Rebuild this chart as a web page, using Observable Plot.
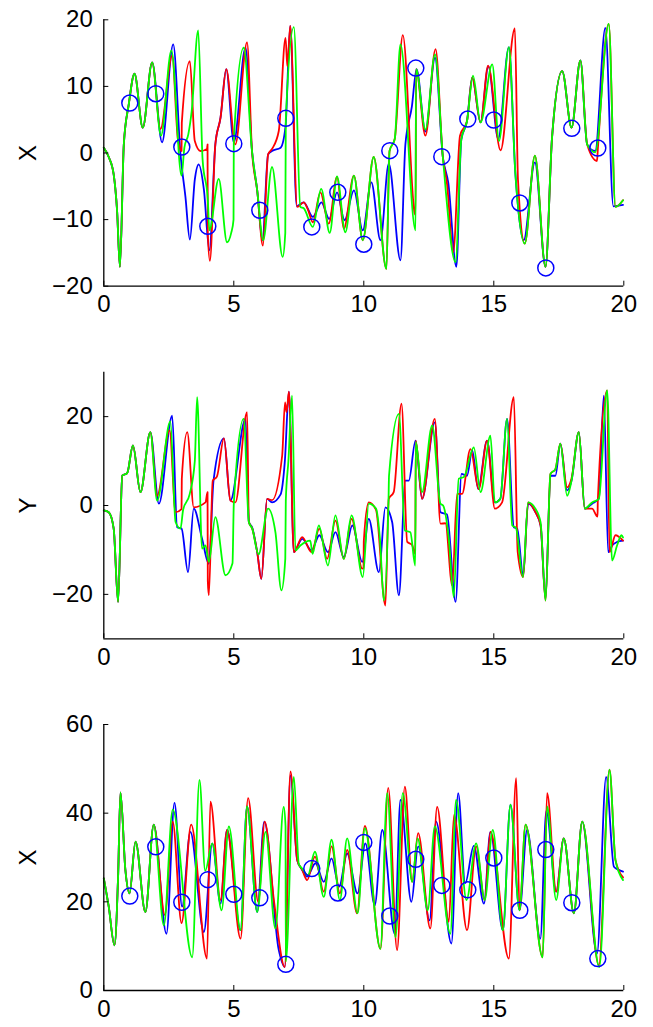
<!DOCTYPE html>
<html><head><meta charset="utf-8">
<script src="https://cdn.jsdelivr.net/npm/d3@7"></script>
<script src="https://cdn.jsdelivr.net/npm/@observablehq/plot@0.6"></script>
<style>
body{margin:0;background:#fff;}
#wrap{position:relative;width:653px;height:1027px;overflow:hidden;}
#wrap svg text{font-size:24px !important;font-family:'Liberation Sans', Arial, Helvetica, sans-serif !important;fill:#000;}
</style></head><body><div id="wrap"></div>
<script>
const xTicks = [0, 5, 10, 15, 20];
const p1Ticks = [-20, -10, 0, 10, 20];
const p2Ticks = [-20, 0, 20];
const p3Ticks = [0, 20, 40, 60];

const obsTimes = [1,2,3,4,5,6,7,8,9,10,11,12,13,14,15,16,17,18,19];
const obsX = [7.5, 8.9, 0.9, -11.0, 1.4, -8.6, 5.2, -11.1, -5.9, -13.7, 0.35, 12.75, -0.55, 5.1, 4.95, -7.5, -17.25, 3.7, 0.75];
const obsZ = [21.3, 32.4, 19.9, 25.0, 21.7, 20.9, 5.9, 27.5, 22.0, 33.4, 16.8, 29.6, 23.7, 22.7, 29.9, 18.1, 31.8, 19.8, 7.2];

// Panel 1 (X) — [t, value] pairs
const p1Common = [[0,0.8],[0.19,-0.6],[0.38,-3.2],[0.51,-8.6],[0.62,-17.1],[0.77,1.3],[0.96,7.3],[1.18,11.9],[1.5,3.8],[1.86,13.6]];
const p1Red = [[2.18,3.6],[2.63,14.6],[2.85,2],[2.99,0.3],[3.0,4.5],[3.31,13.8],[3.5,1.8],[3.72,0.3],[3.97,0.6],[3.99,1.3],[4.0,-12],[4.08,-16.2],[4.29,1.3],[4.49,5.3],[4.71,12.6],[5.06,1.3],[5.51,16.6],[5.7,0.3],[5.9,-5.6],[6.12,-13.9],[6.32,-0.2],[6.47,0.6],[6.73,3.3],[6.99,17.3],[7.06,13],[7.17,19.1],[7.44,-8.1],[7.69,-7.4],[7.85,-8.5],[8.04,-10.4],[8.33,-5.9],[8.65,-10.6],[8.97,-3.6],[9.23,-11.4],[9.62,-3.4],[9.96,-13.1],[10.38,-0.6],[10.87,-17.4],[10.99,0.3],[11.19,2.1],[11.5,17.7],[11.96,-9.1],[11.99,-9.3],[12.01,12.6],[12.37,2.6],[12.76,15.6],[13.04,-0.6],[13.2,-4.6],[13.44,-14.9],[13.7,2.6],[13.97,4.8],[14.17,11.3],[14.49,4.6],[14.78,13.1],[15.26,0.4],[15.81,18.7],[15.93,-4],[16.19,-13.6],[16.58,-0.4],[16.99,-17.1],[17.24,2.3],[17.63,12.3],[17.99,3.8],[18.33,13.9],[18.59,1.3],[18.97,-1.2],[19.0,0.5],[19.42,19.4],[19.68,-8.1],[19.97,-7.1]];
const p1Blue = [[2.24,1.6],[2.67,16.3],[2.95,-0.2],[3.14,-6.6],[3.31,-13],[3.5,-4],[3.65,-1.7],[3.85,-5.5],[4.06,-14.6],[4.29,1.3],[4.49,5.3],[4.71,12.6],[5.0,1.6],[5.45,15.8],[5.7,0.3],[5.9,-5.6],[6.1,-13.1],[6.32,-0.2],[6.47,0.3],[6.8,0.8],[6.99,4],[7.17,19.1],[7.42,-8],[7.69,-7.4],[8.04,-9.6],[8.37,-7.4],[8.67,-9.9],[8.97,-5.9],[9.26,-10.1],[9.62,-5.6],[9.96,-11.6],[10.29,-4.4],[10.64,-13.1],[10.96,-1.6],[11.41,-16.1],[11.6,1.3],[11.85,7],[12.03,12.6],[12.37,3.2],[12.74,14.3],[13.04,-0.6],[13.25,-4.5],[13.56,-17.1],[13.75,2],[13.97,4.8],[14.17,11.3],[14.49,4.6],[14.79,13],[15.17,2.1],[15.58,15.9],[15.83,-3.1],[16.15,-13.1],[16.58,-1.4],[16.99,-17.1],[17.24,2.3],[17.63,12.3],[17.99,3.8],[18.33,13.9],[18.59,1.3],[18.9,0.3],[19.29,18.8],[19.6,-8],[19.97,-7.8]];
const p1Green = [[2.2,2.6],[2.6,15.4],[2.99,-3.4],[3.1,0.8],[3.25,2.8],[3.38,6.3],[3.63,18.4],[3.8,-1],[4.0,-7],[4.06,-11.6],[4.42,-3.9],[4.74,-13.4],[4.9,-12],[4.99,-10],[5.0,1.8],[5.38,15.8],[5.7,0.3],[5.9,-5.6],[6.13,-13.1],[6.47,-2.1],[6.88,-15.6],[6.98,-12],[7.0,5],[7.31,18.9],[7.56,-8.1],[7.69,-8.3],[8.04,-11.1],[8.36,-5.4],[8.69,-12],[8.97,-3.5],[9.29,-11.9],[9.62,-3.4],[9.96,-13.1],[10.38,-0.6],[10.87,-17.4],[10.99,0.3],[11.19,2.1],[11.41,16.3],[11.99,-11.6],[12.01,12.6],[12.37,3.5],[12.74,14.8],[13.04,-0.6],[13.53,-16.4],[13.75,2],[13.97,4.8],[14.2,11.6],[14.49,4.6],[14.94,13.3],[15.2,1.8],[15.58,15.9],[15.83,-3.1],[16.19,-13.6],[16.58,-0.4],[16.99,-17.1],[17.24,2.3],[17.63,12.3],[17.99,3.8],[18.33,13.9],[18.59,1.3],[18.9,0.1],[19.42,19.4],[19.68,-8.1],[19.97,-7.1]];

// Panel 2 (Y)
const p2Common = [[0,-1.1],[0.19,-1.5],[0.38,-5.2],[0.55,-21.7],[0.71,6.7],[0.9,7.3],[1.12,13.5],[1.41,3],[1.79,16.5]];
const p2Red = [[2.05,2.2],[2.53,16.9],[2.76,-1.5],[2.99,-0.8],[3.0,6],[3.21,16.5],[3.46,-0.4],[3.91,0.7],[3.99,3],[4.0,-17],[4.04,-20.2],[4.19,5.6],[4.35,6.5],[4.62,15.1],[4.87,1.1],[5.06,0.7],[5.51,21],[5.58,-3.7],[5.71,-5.2],[5.9,-10.5],[6.06,-16.5],[6.28,1.5],[6.47,1.2],[6.86,11.2],[6.97,23.2],[7.03,21],[7.12,25.6],[7.31,-10.5],[7.63,-7.1],[7.99,-10.5],[8.29,-5.2],[8.59,-12],[8.91,-3.4],[9.23,-12],[9.53,-3],[9.94,-14.2],[9.99,-14],[10.0,-8],[10.19,0.7],[10.47,-1],[10.83,-22.5],[10.96,1.5],[11.15,3],[11.45,22.9],[11.67,-8.2],[11.85,-8.8],[11.98,-10.9],[12.0,14.6],[12.24,1.5],[12.73,19.5],[12.95,-4.1],[13.14,-4],[13.4,-18],[13.59,2.6],[13.78,2.6],[14.1,12.7],[14.42,3.7],[14.74,14.6],[15.04,-0.7],[15.32,0.7],[15.77,24.4],[15.92,-10.5],[16.13,-16.1],[16.32,0.7],[16.6,-1.5],[16.8,-4.5],[16.99,-21.4],[17.18,7.1],[17.37,8.2],[17.56,13.9],[17.82,4.1],[17.99,6.1],[18.27,16.5],[18.5,-0.7],[18.78,-0.7],[18.99,-2.5],[19.0,1],[19.36,25.9],[19.45,-10.5],[19.68,-6.7],[19.97,-7.9]];
const p2Blue = [[2.12,0.4],[2.63,20.2],[2.82,-4.9],[2.99,-5.2],[3.24,-15],[3.46,-0.7],[3.78,-7.5],[4.04,-13.1],[4.22,5.6],[4.62,15.1],[4.87,1.1],[5.45,19.5],[5.58,-3.7],[5.71,-5],[5.9,-10.5],[6.06,-16.5],[6.28,1.5],[6.47,0.7],[6.8,2.5],[6.96,9.7],[7.12,25.6],[7.31,-10.5],[7.63,-7.5],[7.99,-10.1],[8.29,-6.7],[8.62,-10.5],[8.91,-6],[9.23,-11.6],[9.56,-4.5],[9.94,-12.7],[10.19,-3],[10.58,-15],[10.83,-0.4],[11.09,-3.7],[11.35,-20.2],[11.6,5.6],[11.73,5.6],[11.99,14.6],[12.24,1.5],[12.73,18.7],[12.95,-1.5],[13.2,-2],[13.53,-21.7],[13.76,7.1],[13.97,6.7],[14.17,12.4],[14.4,3.7],[14.74,14.6],[15.04,0.7],[15.25,1.5],[15.51,19.5],[15.77,-4.9],[15.9,-5.2],[16.13,-15.7],[16.32,0.4],[16.6,-1.5],[16.8,-4.5],[16.99,-21],[17.18,6.7],[17.37,6.7],[17.56,13.9],[17.82,3.4],[17.99,5.6],[18.27,16.5],[18.5,-0.7],[18.78,0.4],[19.04,1.5],[19.23,24.7],[19.4,-10.5],[19.55,-9],[19.74,-8.2],[19.97,-7.9]];
const p2Green = [[2.05,1.1],[2.56,18.9],[2.76,-3.7],[2.95,-5.2],[3.05,-1],[3.3,2.5],[3.5,10],[3.59,24.4],[3.78,-9.7],[3.91,-9],[4.04,-12.7],[4.29,-2.6],[4.68,-15.7],[4.95,-13],[5.0,0.3],[5.38,19.5],[5.58,-3.7],[5.71,-5.2],[5.95,-11],[6.32,-0.7],[6.6,-6],[6.83,-19.1],[6.98,-12],[7.0,1.1],[7.1,10],[7.24,24.7],[7.37,-10.1],[7.56,-9],[7.94,-7.9],[8.03,-10.9],[8.27,-4.5],[8.62,-13.5],[8.91,-2.2],[9.23,-12],[9.53,-2.2],[9.96,-16.1],[10.19,0.4],[10.47,-0.7],[10.62,-7.5],[10.77,-21.4],[10.95,1],[10.97,6.7],[11.35,20.6],[11.58,-5.6],[11.79,-6],[11.98,-13.5],[12.0,14.3],[12.24,3],[12.63,18],[12.95,0.4],[13.05,0],[13.27,-7.5],[13.46,-20.6],[13.65,6],[13.85,6.4],[14.23,13.1],[14.49,3],[14.87,15.7],[15.04,0.7],[15.25,1.5],[15.51,19.5],[15.71,-4.5],[15.85,-5],[16.12,-16.1],[16.32,0.7],[16.6,-0.7],[16.8,-3.8],[16.99,-21.4],[17.18,7.1],[17.37,8.2],[17.56,13.9],[17.82,2.2],[17.99,5.6],[18.27,16.5],[18.5,-0.7],[18.78,0.7],[19.04,1.5],[19.36,25.9],[19.55,-12.4],[19.74,-9],[19.91,-6.7],[19.97,-7.2]];

// Panel 3 (labelled X)
const p3Common = [[0,25.3],[0.19,18.9],[0.41,10.2],[0.55,25.7],[0.64,44.7],[0.83,27.2],[0.99,21.9],[1.22,33.6],[1.6,17.7],[1.92,37.4]];
const p3Red = [[2.35,17],[2.65,38.1],[2.99,15.2],[3.36,37.4],[3.97,7.2],[4.1,42.6],[4.49,20.4],[4.74,36.2],[5.26,11.7],[5.55,43.4],[5.94,20],[6.19,38.1],[6.55,20],[6.96,5.3],[7.18,49.4],[7.44,29.4],[7.63,27.2],[7.82,24.9],[8.12,30.2],[8.46,22.3],[8.76,32.5],[9.08,21.9],[9.36,31.7],[9.74,17.4],[10.04,37.1],[10.64,9.4],[10.94,45.7],[11.28,9.1],[11.58,46],[11.86,24.5],[12.09,35.5],[12.56,14],[12.82,41.4],[13.27,15.5],[13.47,39.6],[13.97,13.6],[14.32,32.5],[14.65,20.4],[14.87,35.8],[15.58,7.2],[15.86,47.9],[15.99,18.1],[16.22,37.4],[16.88,7.5],[17.05,44.5],[17.4,22.3],[17.69,34.3],[18.08,17.4],[18.4,38.1],[19.04,5.7],[19.45,49.8],[19.68,29.4],[19.97,25.5]];
const p3Blue = [[2.41,12.8],[2.72,42.3],[3.01,18.9],[3.33,35.8],[3.85,13.2],[4.17,33.2],[4.49,19.6],[4.74,36.2],[5.26,13.6],[5.51,41.5],[5.9,17.7],[6.17,38.1],[6.73,9.1],[6.96,5.3],[7.18,48.5],[7.44,29.4],[7.63,27.2],[7.82,25.7],[8.14,28.7],[8.46,24.5],[8.76,29.8],[9.05,23.4],[9.36,30.9],[9.76,21.9],[10.06,33.2],[10.42,19.2],[10.71,36.2],[11.19,12.8],[11.41,43],[11.83,20],[12.09,32.5],[12.53,15.8],[12.78,38.1],[13.37,10.6],[13.63,44.5],[13.9,24.2],[14.23,32.6],[14.62,19.6],[14.87,35.8],[15.35,13.6],[15.64,41.9],[15.99,18.1],[16.28,36.2],[16.79,11.7],[17.02,40.5],[17.4,22.3],[17.69,34.3],[18.08,17.4],[18.4,38.1],[18.97,8.3],[19.32,48.2],[19.62,27.9],[19.8,27.2],[19.97,26.8]];
const p3Green = [[2.31,14.7],[2.65,40.8],[3.4,7.5],[3.68,47.5],[3.9,27],[4.17,33.2],[4.53,18.1],[4.81,37],[5.26,13.6],[5.51,41.5],[5.9,17.7],[6.22,35.8],[6.6,14],[6.92,41.4],[6.99,37],[7.0,6.5],[7.31,48.2],[7.5,28.5],[7.63,27.5],[7.85,26],[8.12,31.3],[8.46,21.1],[8.76,34],[9.08,20.4],[9.36,34.3],[9.76,17.4],[10.04,36.6],[10.64,9.4],[10.9,44.5],[11.22,12],[11.5,44.5],[11.86,24.5],[12.07,34.3],[12.46,18.1],[12.73,37],[13.33,12.8],[13.55,43],[13.95,20.4],[14.32,33.2],[14.65,20.4],[14.96,36.2],[15.35,13.6],[15.64,41.9],[15.99,18.1],[16.22,37.4],[16.88,7.5],[17.05,41.5],[17.4,20.4],[17.69,34.3],[18.08,17.4],[18.4,38.1],[19.06,5.3],[19.45,49.8],[19.68,29.4],[19.97,24.9]];

const rows = (pairs) => pairs.map(([t, v]) => ({t, v}));
const obsRows = (vals) => obsTimes.map((t, i) => ({t, v: vals[i]}));

const wrap = document.getElementById("wrap");
const FONT = "'Liberation Sans', Arial, Helvetica, sans-serif";

function panel(o) {
  const lineOpts = (c) => ({x: "t", y: "v", stroke: c, strokeWidth: 1.8, curve: "monotone-x"});
  const marks = [
    Plot.line(rows([...o.common, ...o.blue]), lineOpts("#0000ff")),
    Plot.line(rows([...o.common, ...o.red]), lineOpts("#ff0000")),
    Plot.line(rows([...o.common, ...o.green]), lineOpts("#00ff00")),
  ];
  if (o.obs) marks.push(Plot.dot(obsRows(o.obs), {x: "t", y: "v", r: 8, stroke: "#0000ff", strokeWidth: 1.5, fill: "none"}));
  marks.push(
    Plot.ruleX([0], {stroke: "#000", strokeWidth: 1.3}),
    Plot.ruleY([o.yDomain[0]], {stroke: "#000", strokeWidth: 1.3}),
    Plot.axisX(xTicks, {tickSize: -5, tickPadding: 14, label: null, fontSize: 24, stroke: "#000"}),
    Plot.axisY(o.yTicks, {tickSize: -5, tickPadding: 16, label: o.label, labelAnchor: "center", labelOffset: 85, labelArrow: "none", fontSize: 24, stroke: "#000"})
  );
  const fig = Plot.plot({
    width: 653, height: o.height,
    marginTop: o.mt, marginBottom: o.mb, marginLeft: 103.3, marginRight: 29.7,
    style: {fontFamily: FONT, fontSize: "24px", color: "#000", background: "transparent", overflow: "visible"},
    x: {domain: [0, 20]},
    y: {domain: o.yDomain},
    marks
  });
  const d = document.createElement("div");
  d.style.cssText = `position:absolute;left:0;top:${o.top}px;`;
  d.append(fig);
  wrap.append(d);
}

panel({top: 0, height: 340, mt: 19.3, mb: 54.3, yDomain: [-20, 20], yTicks: p1Ticks, label: "X",
  common: p1Common, red: p1Red, blue: p1Blue, green: p1Green, obs: obsX});
panel({top: 340, height: 345, mt: 31.7, mb: 46.7, yDomain: [-30, 30], yTicks: p2Ticks, label: "Y",
  common: p2Common, red: p2Red, blue: p2Blue, green: p2Green});
panel({top: 685, height: 342, mt: 39, mb: 37, yDomain: [0, 60], yTicks: p3Ticks, label: "X",
  common: p3Common, red: p3Red, blue: p3Blue, green: p3Green, obs: obsZ});
</script></body></html>
